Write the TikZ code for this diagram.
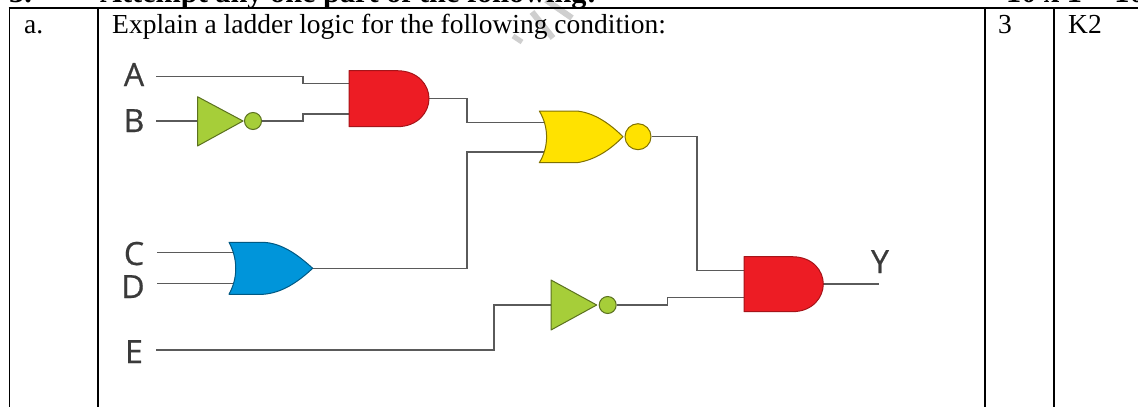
\documentclass[tikz,border=0pt]{standalone}
\usepackage{fontspec}
\setmainfont{Liberation Serif}
\newfontfamily\lblfont[FakeBold=0.6]{Open Sans}
\definecolor{gatered}{HTML}{ED1C24}
\definecolor{gateyellow}{HTML}{FFE200}
\definecolor{gateblue}{HTML}{0095DA}
\definecolor{gategreen}{HTML}{A6CE39}
\definecolor{wiregray}{HTML}{5A5A5A}
\definecolor{lblgray}{HTML}{3A3A3A}
\definecolor{wmgray}{HTML}{CFCFCF}
\tikzset{
  x=1pt,y=-1pt,
  rule/.style={black,line width=1.7pt},
  wire/.style={wiregray,line width=1.2pt},
  gateline/.style={draw=#1,line width=1pt,line join=round},
  tabletext/.style={inner sep=0pt,anchor=base west,font=\fontsize{27.5}{30}\selectfont},
  headtext/.style={inner sep=0pt,anchor=base west,font=\bfseries\fontsize{30.3}{32}\selectfont},
  siglabel/.style={inner sep=0pt,anchor=base,text=lblgray,font=\lblfont\fontsize{32}{36}\selectfont},
  bubble/.style={circle,inner sep=0pt,draw=#1,line width=1pt},
}
\begin{document}
\begin{tikzpicture}
\useasboundingbox (0,0) rectangle (1138,407);
\clip (0,0) rectangle (1138,407);
\fill[white] (0,0) rectangle (1138,407);
% watermark fragment
\draw[wmgray,line width=6pt] (532,12) -- (553,38);
\draw[wmgray,line width=6pt] (546,0) -- (572,18);
\draw[wmgray,line width=5pt] (513,36) -- (522,42);
% header and rules
\node[headtext] (hnum) at (9,2.5) {3.};
\node[headtext] (htitle) at (100,2.5) {Attempt any one part of the following:};
\node[headtext] (hmarks) at (1006,2.5) {10 x 1 = 10};
\draw[rule] (8.6,8) -- (1138,8);
\draw[rule] (9.5,8) -- (9.5,407);
\draw[rule] (98,8) -- (98,407);
\draw[rule] (985,8) -- (985,407);
\draw[rule] (1054,8) -- (1054,407);
\node[tabletext] (qa) at (24,33.5) {a.};
\node[tabletext] (qt) at (112,33.5) {Explain a ladder logic for the following condition:};
\node[tabletext] (qm) at (998,33.5) {3};
\node[tabletext] (qk) at (1068,33.5) {K2};
% signal labels
\node[siglabel] (A) at (134,86) {A};
\node[siglabel] (B) at (134,132) {B};
\node[siglabel] (C) at (134,265) {C};
\node[siglabel] (D) at (133,298) {D};
\node[siglabel] (E) at (134,363) {E};
\node[siglabel] (Y) at (880,273) {Y};
% wire anchors
\coordinate (Aw) at (156,76.7);
\coordinate (Bw) at (156,121);
\coordinate (Cw) at (157,252.7);
\coordinate (Dw) at (157,283.7);
\coordinate (Ew) at (156,350);
\coordinate (Yw) at (879,284);
\coordinate (and1a) at (349,83.3);
\coordinate (and1b) at (349,114);
\coordinate (and1o) at (429,98.7);
\coordinate (nor1a) at (546,122.7);
\coordinate (nor1b) at (546,152);
\coordinate (or1a) at (237,252.7);
\coordinate (or1b) at (237,283.7);
\coordinate (or1o) at (312.7,268.3);
\coordinate (and2a) at (744,270.3);
\coordinate (and2b) at (744,297.3);
\coordinate (and2o) at (823.3,284);
\coordinate (inv1i) at (197.5,121);
\coordinate (inv2i) at (551,305);
% wires
\draw[wire] (Aw) -- (303,76.7) -- (303,83.3) -- (and1a);
\draw[wire] (Bw) -- (inv1i);
\node[bubble=gategreen!55!black,fill=gategreen,minimum size=17pt] (b1) at (253,121) {};
\draw[wire] (b1.east) -- (303,121) -- (303,114) -- (and1b);
\draw[wire] (and1o) -- (467,98.7) -- (467,122.7) -- (nor1a);
\draw[wire] (or1o) -- (467,268.3) -- (467,152) -- (nor1b);
\draw[wire] (Cw) -- (or1a);
\draw[wire] (Dw) -- (or1b);
\draw[wire] (Ew) -- (494,350) -- (494,305) -- (inv2i);
\node[bubble=gateyellow!50!black,fill=gateyellow,minimum size=26pt] (b3) at (638,136.7) {};
\draw[wire] (b3.east) -- (697,136.7) -- (697,270.3) -- (and2a);
\node[bubble=gategreen!55!black,fill=gategreen,minimum size=17pt] (b2) at (607.7,305) {};
\draw[wire] (b2.east) -- (667.7,305) -- (667.7,297.3) -- (and2b);
\draw[wire] (and2o) -- (Yw);
% gates
\filldraw[gateline=gatered!70!black,fill=gatered] (349,70.7) -- (397,70.7) .. controls (418,70.7) and (429,85) .. (429,98.7) .. controls (429,112) and (418,126.7) .. (397,126.7) -- (349,126.7) -- cycle;
\filldraw[gateline=gatered!70!black,fill=gatered] (744,256.7) -- (792,256.7) .. controls (813,256.7) and (823.3,271) .. (823.3,284) .. controls (823.3,297) and (813,311.7) .. (792,311.7) -- (744,311.7) -- cycle;
\filldraw[gateline=gategreen!55!black,fill=gategreen] (197.5,96.7) -- (243,121) -- (197.5,146) -- cycle;
\filldraw[gateline=gategreen!55!black,fill=gategreen] (551,280) -- (596.7,305) -- (551,330) -- cycle;
\filldraw[gateline=gateyellow!50!black,fill=gateyellow] (539.3,111) -- (577,111) .. controls (595,113) and (610,124) .. (623,136.7) .. controls (610,150) and (595,160) .. (577,162.7) -- (539.3,162.7) .. controls (549,147) and (549,127) .. (539.3,111) -- cycle;
\filldraw[gateline=gateblue!60!black,fill=gateblue] (229,242.3) -- (263,242.3) .. controls (282,243) and (298,255) .. (312.7,268.3) .. controls (298,282) and (282,293) .. (263,294.3) -- (229,294.3) .. controls (238,278) and (238,259) .. (229,242.3) -- cycle;
\end{tikzpicture}
\end{document}
